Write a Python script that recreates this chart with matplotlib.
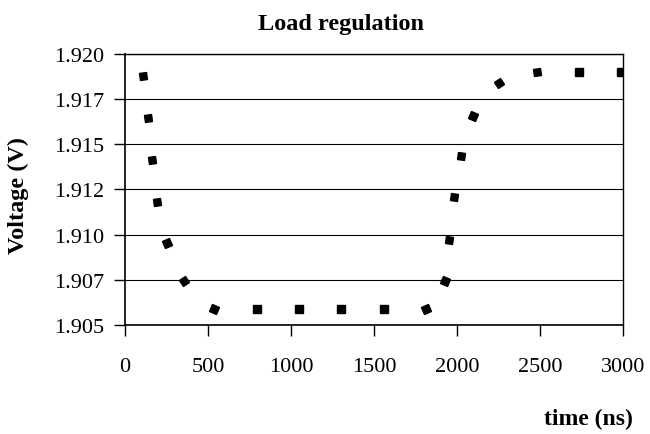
import numpy as np
import matplotlib.pyplot as plt
from matplotlib.markers import MarkerStyle
from matplotlib.transforms import Affine2D

plt.rcParams['font.family'] = ['Liberation Serif', 'DejaVu Serif']

# time (ns) and output voltage (V)
time_ns = [107, 136, 165, 193, 253, 355, 536, 795, 1048, 1301, 1558, 1815,
           1928, 1954, 1984, 2022, 2096, 2253, 2479, 2736, 2990]
voltage = [1.91877, 1.91644, 1.91412, 1.91179, 1.90952, 1.90742, 1.90589,
           1.90589, 1.90589, 1.90589, 1.90589, 1.90589,
           1.90742, 1.90972, 1.91207, 1.91437, 1.91659, 1.91839,
           1.91899, 1.91899, 1.91899]

xticks = [0, 500, 1000, 1500, 2000, 2500, 3000]
yticks = [1.905, 1.9075, 1.910, 1.9125, 1.915, 1.9175, 1.920]
ytick_labels = ['1.905', '1.907', '1.910', '1.912', '1.915', '1.917', '1.920']

fig = plt.figure(figsize=(6.5, 4.35), dpi=100)
ax = fig.add_axes([0.1923, 0.2506, 0.7662, 0.6230])
ax.set_xlim(0, 3000)
ax.set_ylim(1.905, 1.920)
ax.set_xticks(xticks)
ax.set_yticks(yticks)
ax.set_yticklabels(ytick_labels)
ax.tick_params(labelsize=16, length=8, width=1, direction='out')
ax.tick_params(axis='x', pad=15)
ax.tick_params(axis='y', pad=7)
ax.grid(axis='y', color='black', linewidth=0.8)
ax.set_axisbelow(True)
for s in ax.spines.values():
    s.set_linewidth(1)
ax.spines['left'].set_linewidth(1.2)
ax.spines['bottom'].set_linewidth(1.2)

# each square is turned along the direction of the curve, as in the original
pts = ax.transData.transform(np.column_stack([time_ns, voltage]))
n = len(pts)
for i in range(n):
    a = pts[max(i - 1, 0)]
    b = pts[min(i + 1, n - 1)]
    ang = np.degrees(np.arctan2(b[1] - a[1], b[0] - a[0]))
    m = MarkerStyle('s', transform=Affine2D().rotate_deg(ang))
    ax.plot(time_ns[i], voltage[i], linestyle='none', marker=m,
            markersize=5.3, color='black', clip_on=True)

fig.text(0.524, 0.943, 'Load regulation', ha='center', va='center',
         fontsize=17.5, fontweight='bold')
fig.text(0.028, 0.55, 'Voltage (V)', rotation=90, ha='center', va='center',
         fontsize=17.5, fontweight='bold')
fig.text(0.906, 0.035, 'time (ns)', ha='center', va='center',
         fontsize=17, fontweight='bold')

fig.savefig('out.png', dpi=100)
